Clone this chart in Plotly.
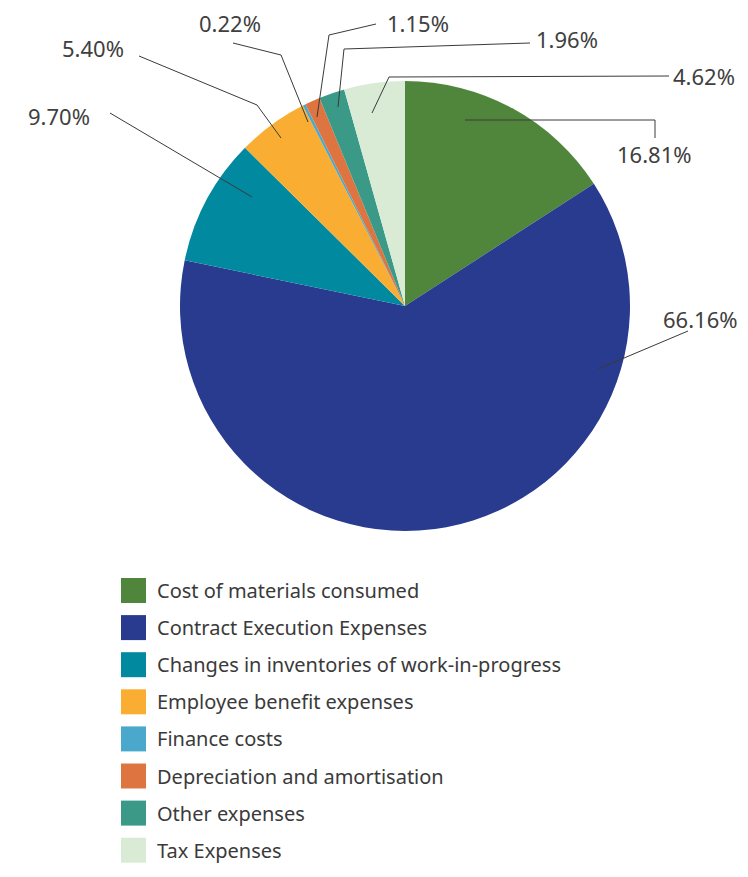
import plotly.graph_objects as go

# ---- data ----
categories = [
    "Cost of materials consumed",
    "Contract Execution Expenses",
    "Changes in inventories of work-in-progress",
    "Employee benefit expenses",
    "Finance costs",
    "Depreciation and amortisation",
    "Other expenses",
    "Tax Expenses",
]
values = [16.81, 66.16, 9.70, 5.40, 0.22, 1.15, 1.96, 4.62]
colors = ["#50863B", "#283B8F", "#00899F", "#F9AE33",
          "#4AA8CC", "#DE7540", "#3A9A87", "#D9EBD5"]

# ---- layout (pixel) helpers ----
# the page body has an 8px margin, so the figure is drawn 16px smaller
# and all positions (given in window pixels) are shifted by that margin
VIEW_W, VIEW_H, PAD = 748, 877, 8
W, H = VIEW_W - 2 * PAD, VIEW_H - 2 * PAD
def px(x):
    return (x - PAD) / W
def py(y):
    return 1 - (y - PAD) / H

# pie geometry (window pixels)
CX, CY, R = 405, 306, 225

# label positions (text centre) and leader paths, in category order
label_pos = [
    (654, 154),  # Cost of materials
    (700, 319),  # Contract Execution
    (59, 116),   # Changes in inventories
    (93, 48),    # Employee benefit
    (230, 23),   # Finance costs
    (418, 23),   # Depreciation
    (567, 39),   # Other expenses
    (704, 76),   # Tax
]
leaders = [
    [(465, 120), (655, 120), (655, 138)],
    [(598, 369), (688, 331)],
    [(252, 197), (110, 113)],
    [(281, 138), (257, 105), (139, 56)],
    [(308, 122), (281, 55), (233, 43)],
    [(317, 117), (329, 35), (376, 24)],
    [(338, 107), (344, 49), (530, 43)],
    [(372, 113), (389, 77), (669, 76)],
]

fig = go.Figure()
fig.add_trace(go.Pie(
    labels=categories,
    values=values,
    marker=dict(colors=colors, line=dict(width=0)),
    sort=False,
    direction="clockwise",
    rotation=0,
    textinfo="none",
    showlegend=False,
    domain=dict(x=[px(CX - R), px(CX + R)], y=[py(CY + R), py(CY - R)]),
))

shapes = []
annotations = []
FONT = "Noto Sans"
for v, (lx, ly), path in zip(values, label_pos, leaders):
    d = "M " + " L ".join(f"{px(x)},{py(y)}" for x, y in path)
    shapes.append(dict(type="path", path=d, xref="paper", yref="paper",
                       line=dict(color="#3a3a3a", width=1)))
    annotations.append(dict(text=f"{v:.2f}%", x=px(lx), y=py(ly),
                            xref="paper", yref="paper", showarrow=False,
                            xanchor="center", yanchor="middle", borderpad=0,
                            font=dict(family=FONT, size=22, color="#404040")))

# custom legend
LEG_X0, LEG_SW, LEG_Y0, LEG_STEP = 121, 25, 590.5, 37.1
for i, (name, c) in enumerate(zip(categories, colors)):
    yc = LEG_Y0 + i * LEG_STEP
    shapes.append(dict(type="rect", xref="paper", yref="paper",
                       x0=px(LEG_X0), x1=px(LEG_X0 + LEG_SW),
                       y0=py(yc + LEG_SW / 2), y1=py(yc - LEG_SW / 2),
                       fillcolor=c, line=dict(width=0)))
    annotations.append(dict(text=name, x=px(155), y=py(yc),
                            xref="paper", yref="paper", showarrow=False,
                            xanchor="left", yanchor="middle",
                            font=dict(family=FONT, size=20, color="#3a3a3a")))

fig.update_layout(
    width=W, height=H,
    margin=dict(l=0, r=0, t=0, b=0),
    paper_bgcolor="white",
    plot_bgcolor="white",
    shapes=shapes,
    annotations=annotations,
)

fig.write_html("out.html")
